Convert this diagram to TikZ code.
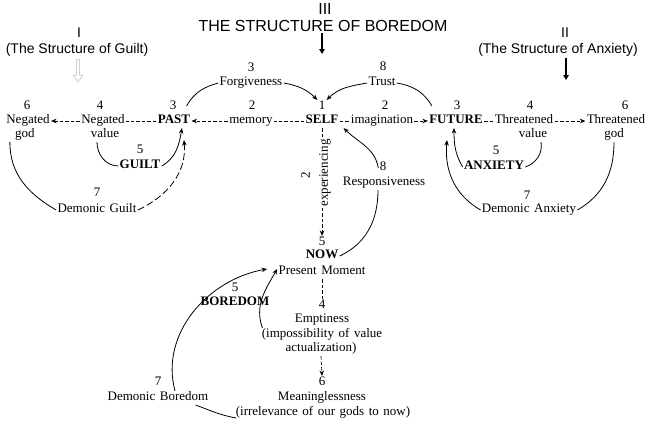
\documentclass[tikz,border=0pt]{standalone}
\usepackage{fontspec}
\setmainfont{Liberation Serif}[WordSpace=1.4]
\setsansfont{Liberation Sans}
\usetikzlibrary{arrows.meta,calc}
\begin{document}
\begin{tikzpicture}[x=1pt,y=1pt,
  every node/.style={inner sep=1.2pt, text height=8.6pt, text depth=2.7pt, font=\fontsize{13}{14}\selectfont},
  bf/.style={font=\fontsize{13}{14}\selectfont\bfseries},
  ttl/.style={font=\fontsize{16}{18}\selectfont\sffamily, text height=, text depth=},
  sub/.style={font=\fontsize{14}{16}\selectfont\sffamily, text height=, text depth=},
  dsh/.style={line width=0.7pt, dash pattern=on 3.5pt off 2pt},
  ldsh/.style={line width=0.8pt, dash pattern=on 7pt off 3pt},
  arc/.style={line width=0.8pt},
  tip/.style={-{Stealth[length=5.5pt,width=4.5pt]}},
  bigtip/.style={-{Triangle[length=5pt,width=5.5pt]}},
]
\useasboundingbox (0,0) rectangle (648,-424);

% titles
\node[ttl] (r3) at (325,-9) {III};
\node[ttl] (title) at (323,-26) {THE STRUCTURE OF BOREDOM};
\coordinate (ta) at (322,-54);
\draw[line width=1.4pt, bigtip] (title.south -| ta) -- (ta);

\node[sub] (r1) at (79,-33) {I};
\node[sub] (gt) at (77,-50) {(The Structure of Guilt)};
\draw[gray!55, line width=0.5pt] (76.5,-59) -- (76.5,-75) -- (73,-75) -- (78,-82) -- (83,-75) -- (79.5,-75) -- (79.5,-59) -- cycle;

\node[sub] (r2) at (565,-33) {II};
\node[sub] (at) at (558,-50) {(The Structure of Anxiety)};
\coordinate (aa) at (566,-80);
\draw[line width=1.4pt, bigtip] (at.south -| aa) -- (aa);

% main row
\node (ng6) at (27,-107) {6};
\node (ngod1) at (28,-121) {Negated};
\node (ngod2) at (25,-135) {god};
\node (nv4) at (100,-107) {4};
\node (nval1) at (103,-121) {Negated};
\node (nval2) at (105,-135) {value};
\node (past3) at (173,-107) {3};
\node[bf] (past) at (174,-121) {PAST};
\node (mem2) at (252,-107) {2};
\node (mem) at (251,-121) {memory};
\node (self1) at (322,-107) {1};
\node[bf] (self) at (322,-121) {SELF};
\node (im2) at (385,-107) {2};
\node (imag) at (382,-121) {imagination};
\node (fut3) at (457,-107) {3};
\node[bf] (fut) at (456,-121) {FUTURE};
\node (tv4) at (530,-107) {4};
\node (tval1) at (524,-121) {Threatened};
\node (tval2) at (533,-135) {value};
\node (tg6) at (625,-107) {6};
\node (tgod1) at (616,-121) {Threatened};
\node (tgod2) at (614,-135) {god};

% upper
\node (forg3) at (251,-69) {3};
\node (forg) at (251,-83) {Forgiveness};
\node (tr8) at (383,-68) {8};
\node (trust) at (382,-83) {Trust};

% lower left
\node (gu5) at (140,-151) {5};
\node[bf] (guilt) at (140,-166) {GUILT};
\node (dg7) at (97,-194) {7};
\node (dguilt) at (97,-210) {Demonic Guilt};

% lower right
\node (an5) at (496,-152) {5};
\node[bf] (anx) at (494,-167) {ANXIETY};
\node (da7) at (527,-197) {7};
\node (danx) at (529,-210) {Demonic Anxiety};

% centre
\node[rotate=90] (exper) at (325,-173) {experiencing};
\node[rotate=90] (exp2) at (307,-175) {2};
\node (now5) at (322,-243) {5};
\node[bf] (now) at (322,-256) {NOW};
\node (pm) at (322,-272) {Present Moment};
\node (re8) at (383,-168) {8};
\node (resp) at (384,-183) {Responsiveness};
\node (em4) at (322,-306) {4};
\node (empt) at (322,-320) {Emptiness};
\node (imp1) at (322,-335) {(impossibility of value};
\node (imp2) at (321,-349) {actualization)};
\node (me6) at (322,-383) {6};
\node (mean) at (322,-398) {Meaninglessness};
\node (irr) at (323,-413) {(irrelevance of our gods to now)};
\node (bo5) at (235,-289) {5};
\node[bf] (bore) at (235,-303) {BOREDOM};
\node (db7) at (158,-383) {7};
\node (dbore) at (158,-398) {Demonic Boredom};

% dashed row connectors
\draw[dsh, tip] (nval1.west) -- (ngod1.east);
\draw[dsh] (past.west) -- (nval1.east);
\draw[dsh, tip] (mem.west) -- (past.east);
\draw[dsh] (self.west) -- (mem.east);
\draw[dsh] (self.east) -- (imag.west);
\draw[dsh, tip] (imag.east) -- (fut.west);
\draw[dsh] (fut.east) -- (tval1.west);
\draw[dsh, tip] (tval1.east) -- (tgod1.west);

% upper arcs
\draw[arc] ([shift={(-5,8)}]past.north east) to[out=60,in=195] (forg.west);
\draw[arc, tip] (forg.east) to[out=-10,in=135] (self1.north west);
\draw[arc, tip] (trust.west) to[out=190,in=45] (self1.north east);
\draw[arc] (trust.east) to[out=-10,in=120] ([shift={(4,8)}]fut.north west);

% guilt arcs
\draw[arc] ([xshift=-8pt]nval2.south) to[out=-90,in=180] (guilt.west);
\draw[arc, tip] (guilt.east) to[out=30,in=-100] ([xshift=8pt]past.south);
\draw[arc] ([xshift=-4pt]ngod2.south west) to[out=-90,in=150] (dguilt.west);
\draw[ldsh, tip] (dguilt.east) to[out=25,in=-85] ([shift={(10,-12)}]past.south);

% anxiety arcs
\draw[arc, tip] (anx.west) to[out=120,in=-90] ([xshift=-2pt]fut.south);
\draw[arc] (anx.east) to[out=20,in=-80] ([xshift=8pt]tval2.south);
\draw[arc, tip] (danx.west) to[out=150,in=-95] ([shift={(-9,-12)}]fut.south);
\draw[arc] (tgod2.south) to[out=-90,in=30] (danx.east);

% centre connectors
\draw[dsh] (self.south) -- (self.south |- exper.east);
\draw[dsh, tip] (self.south |- exper.west) -- (now5.north);
\draw[arc] (now.east) to[out=25,in=-90] ([xshift=-6pt]resp.south);
\draw[arc, tip] (re8.west) to[out=100,in=-45] ([shift={(4,0)}]self.south east);
\draw[dsh] (pm.south) -- (em4.north);
\draw[dsh, tip] (imp2.south) -- (me6.north);

% boredom arcs
\draw[arc, tip] ([shift={(2,0)}]imp1.north west) to[out=110,in=-120] ([yshift=3pt]pm.west);
\draw[arc, tip] ([xshift=17pt]dbore.north) to[out=105,in=190] ([shift={(-10,3)}]pm.west);
\draw[arc] ([shift={(2,2)}]irr.south west) to[out=170,in=-20] ([xshift=-14pt]dbore.south east);
\end{tikzpicture}
\end{document}
